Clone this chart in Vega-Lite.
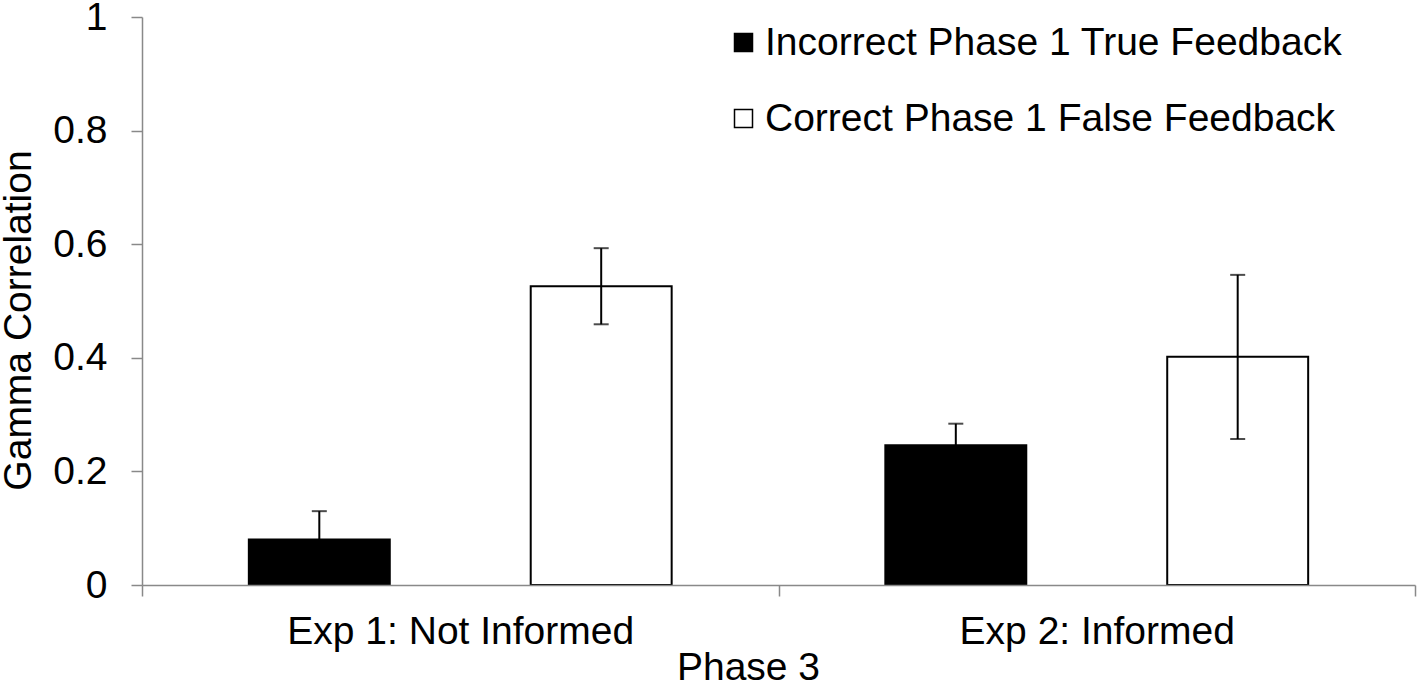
{
  "$schema": "https://vega.github.io/schema/vega-lite/v6.json",
  "autosize": {"type": "none"},
  "width": 1273,
  "height": 568,
  "padding": {"left": 142, "top": 17, "right": 3, "bottom": 97},
  "background": "white",
  "config": {
    "font": "Liberation Sans",
    "view": {"stroke": null},
    "axis": {
      "labelFont": "Liberation Sans",
      "titleFont": "Liberation Sans",
      "labelFontSize": 39,
      "titleFontSize": 39,
      "labelColor": "black",
      "titleColor": "black",
      "titleFontWeight": "normal",
      "domainColor": "#898989",
      "tickColor": "#898989",
      "domainWidth": 1.5,
      "tickWidth": 1.5,
      "grid": false,
      "tickSize": 11,
      "labelLimit": 900
    }
  },
  "data": {
    "values": [
      {"phase": "Exp 1: Not Informed", "feedback": "Incorrect Phase 1 True Feedback", "value": 0.08, "lo": 0.03, "hi": 0.13},
      {"phase": "Exp 1: Not Informed", "feedback": "Correct Phase 1 False Feedback", "value": 0.526, "lo": 0.459, "hi": 0.593},
      {"phase": "Exp 2: Informed", "feedback": "Incorrect Phase 1 True Feedback", "value": 0.246, "lo": 0.208, "hi": 0.284},
      {"phase": "Exp 2: Informed", "feedback": "Correct Phase 1 False Feedback", "value": 0.402, "lo": 0.257, "hi": 0.546}
    ]
  },
  "encoding": {
    "x": {
      "field": "phase",
      "type": "nominal",
      "sort": ["Exp 1: Not Informed", "Exp 2: Informed"],
      "scale": {"paddingInner": 0, "paddingOuter": 0},
      "axis": {
        "title": "Phase 3",
        "labelAngle": 0,
        "tickBand": "extent",
        "labelPadding": 16,
        "labelLimit": 900,
        "titleX": 606,
        "titleY": 94,
        "titleBaseline": "alphabetic",
        "zindex": 1
      }
    },
    "xOffset": {
      "field": "feedback",
      "type": "nominal",
      "sort": ["Incorrect Phase 1 True Feedback", "Correct Phase 1 False Feedback"],
      "scale": {"paddingInner": 0.5, "paddingOuter": 0.379}
    }
  },
  "layer": [
    {
      "mark": {"type": "bar", "stroke": "black", "strokeWidth": 2},
      "encoding": {
        "y": {
          "field": "value",
          "type": "quantitative",
          "title": "Gamma Correlation",
          "scale": {"domain": [0, 1]},
          "axis": {
            "values": [0, 0.2, 0.4, 0.6, 0.8, 1],
            "format": "~g",
            "labelPadding": 24,
            "titlePadding": 14,
            "titleY": 303
          }
        },
        "fill": {
          "field": "feedback",
          "type": "nominal",
          "scale": {
            "domain": ["Incorrect Phase 1 True Feedback", "Correct Phase 1 False Feedback"],
            "range": ["#000000", "#ffffff"]
          },
          "legend": {
            "orient": "none",
            "legendX": 582,
            "legendY": 6,
            "title": null,
            "symbolType": "square",
            "symbolSize": 324,
            "symbolStrokeColor": "black",
            "symbolStrokeWidth": 1.5,
            "labelFontSize": 39,
            "labelFont": "Liberation Sans",
            "labelColor": "black",
            "labelOffset": 2,
            "rowPadding": 36,
            "labelLimit": 900
          }
        }
      }
    },
    {
      "mark": {"type": "rule", "strokeWidth": 2, "color": "black"},
      "encoding": {
        "y": {"field": "lo", "type": "quantitative", "title": "Gamma Correlation"},
        "y2": {"field": "hi"}
      }
    },
    {
      "mark": {"type": "tick", "color": "black", "thickness": 2, "size": 15},
      "encoding": {
        "y": {"field": "hi", "type": "quantitative", "title": "Gamma Correlation"}
      }
    },
    {
      "mark": {"type": "tick", "color": "black", "thickness": 2, "size": 15},
      "encoding": {
        "y": {"field": "lo", "type": "quantitative", "title": "Gamma Correlation"}
      }
    }
  ]
}
